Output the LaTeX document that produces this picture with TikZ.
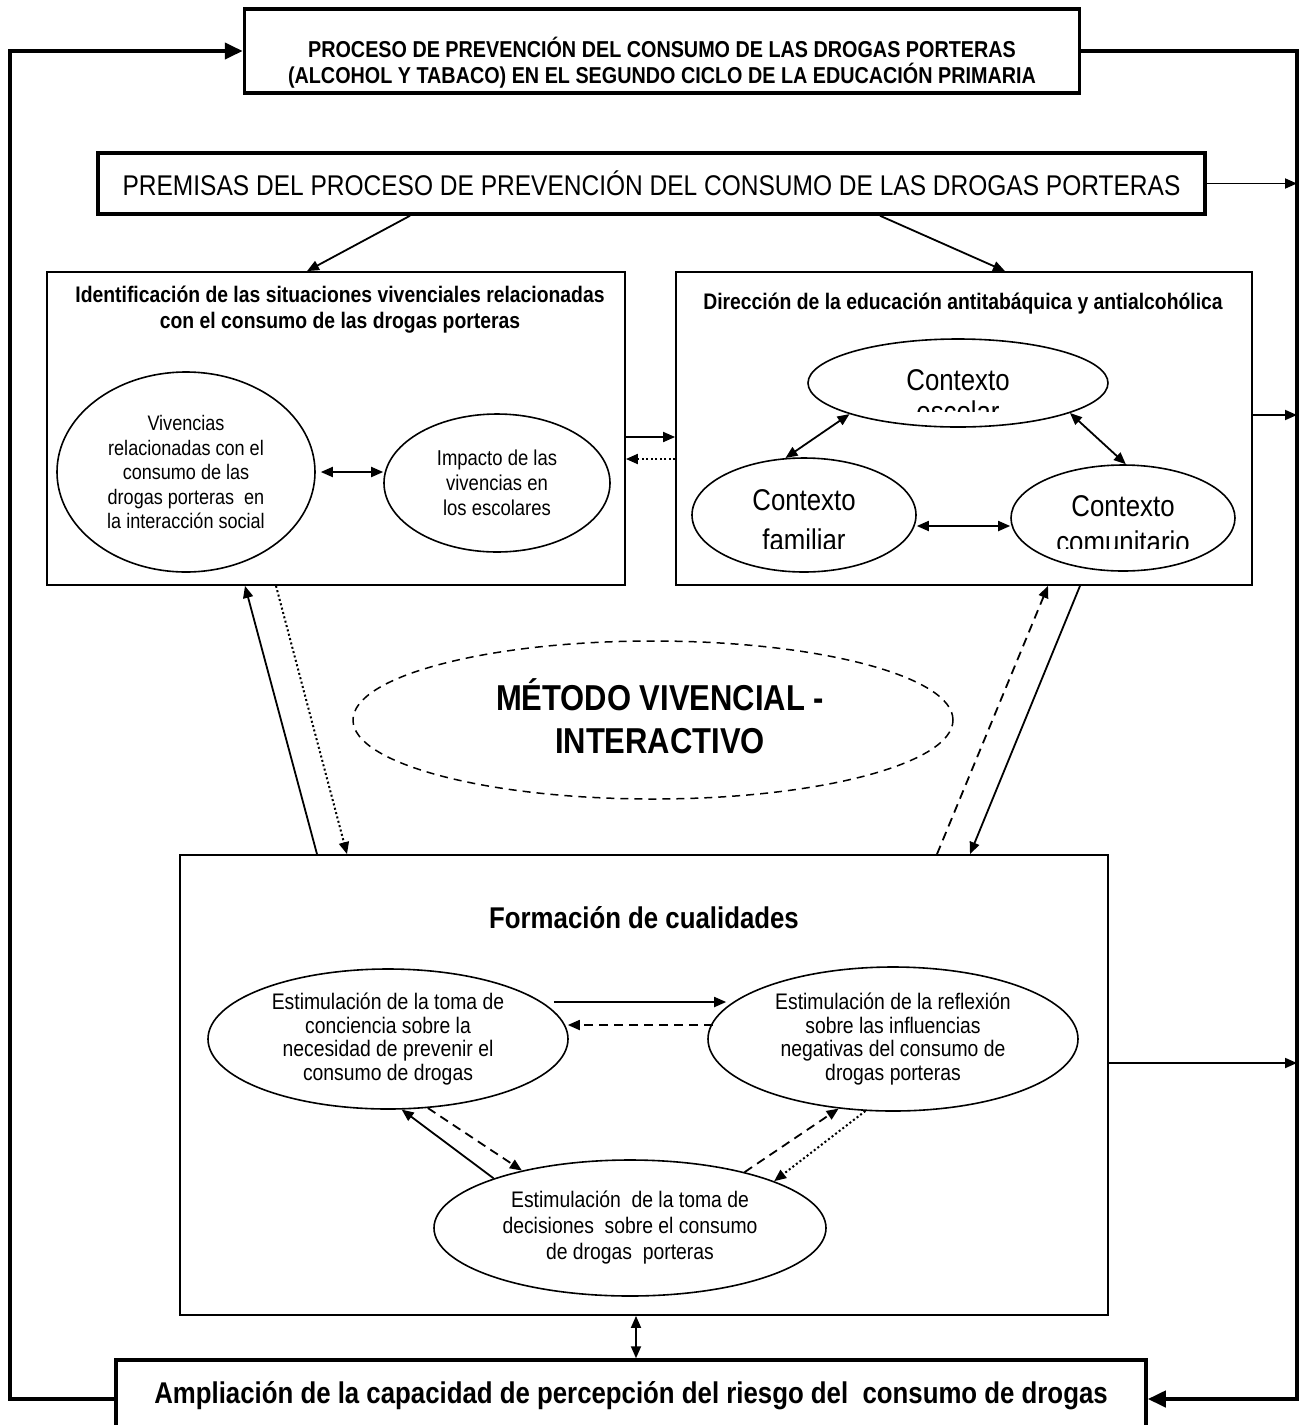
\documentclass[tikz,border=0pt]{standalone}
\usepackage{fontspec}
\setmainfont{Liberation Sans}[FakeStretch=0.86]
\usetikzlibrary{shapes.geometric,arrows.meta}
\begin{document}
\begin{tikzpicture}[x=1pt,y=-1pt,
  thickbox/.style={draw,line width=3.5pt,inner sep=0pt},
  thinbox/.style={draw,line width=1.8pt,inner sep=0pt},
  ell/.style={draw,ellipse,line width=1.6pt,inner sep=0pt,align=center},
  txt/.style={inner sep=0pt,align=center},
  arr/.style={line width=1.8pt,-{Triangle[length=12pt,width=10pt]}},
  darr/.style={line width=1.8pt,{Triangle[length=12pt,width=10pt]}-{Triangle[length=12pt,width=10pt]}},
  dotline/.style={line width=2pt,dash pattern=on 2pt off 2.5pt},
  dashline/.style={line width=1.8pt,dash pattern=on 9pt off 6pt},
  loopline/.style={line width=4pt,line join=miter,-{Triangle[length=18pt,width=16pt]}}
]
\useasboundingbox (0,0) rectangle (1304,1425);
\fill[white] (0,0) rectangle (1304,1425);

% outer boxes
\node[thickbox,minimum width=835pt,minimum height=84pt] (top) at (662,51) {};
\node[txt,font=\bfseries\fontsize{23}{26}\selectfont] (topt) at (662,63)
  {PROCESO DE PREVENCIÓN DEL CONSUMO DE LAS DROGAS PORTERAS\\(ALCOHOL Y TABACO) EN EL SEGUNDO CICLO DE LA EDUCACIÓN PRIMARIA};

\node[thickbox,minimum width=1107pt,minimum height=61pt,font=\fontsize{28.5}{30}\selectfont] (prem) at (651.5,183.5)
  {PREMISAS DEL PROCESO DE PREVENCIÓN DEL CONSUMO DE LAS DROGAS PORTERAS};

% left box
\node[thinbox,minimum width=578pt,minimum height=313pt] (idb) at (336,428.5) {};
\node[txt,font=\bfseries\fontsize{22.5}{26}\selectfont] (idbt) at (340,310)
  {Identificación de las situaciones vivenciales relacionadas\\con el consumo de las drogas porteras};
\node[ell,minimum width=258pt,minimum height=200pt,font=\fontsize{21}{24.5}\selectfont] (viv) at (186,472)
  {Vivencias\\relacionadas con el\\consumo de las\\drogas porteras\ \ en\\la interacción social};
\node[ell,minimum width=226pt,minimum height=138pt,font=\fontsize{21.5}{25}\selectfont] (imp) at (497,483)
  {Impacto de las\\vivencias en\\los escolares};

% right box
\node[thinbox,minimum width=576pt,minimum height=313pt] (dir) at (964,428.5) {};
\node[txt,font=\bfseries\fontsize{22.5}{26}\selectfont] (dirt) at (963,304)
  {Dirección de la educación antitabáquica y antialcohólica};
\node[ell,minimum width=300pt,minimum height=88pt] (esc) at (958,383) {};
\node[ell,minimum width=224pt,minimum height=114pt] (fam) at (804,515) {};
\node[ell,minimum width=224pt,minimum height=106pt] (com) at (1123,518) {};
\begin{scope}
  \clip (820,340) rectangle (1100,411);
  \node[txt,font=\fontsize{30}{32}\selectfont] (esct) at (958,396) {Contexto\\escolar};
\end{scope}
\begin{scope}
  \clip (700,470) rectangle (910,548);
  \node[txt,font=\fontsize{30}{40}\selectfont] (famt) at (804,520) {Contexto\\familiar};
\end{scope}
\begin{scope}
  \clip (1015,470) rectangle (1230,548);
  \node[txt,font=\fontsize{30}{36}\selectfont] (comt) at (1123,524) {Contexto\\comunitario};
\end{scope}

% method ellipse
\node[draw,ellipse,line width=1.5pt,dash pattern=on 8pt off 6pt,minimum width=600pt,minimum height=158pt] (met) at (653,720) {};
\node[txt,font=\bfseries\fontsize{36}{43}\selectfont] (mett) at (660,716) {MÉTODO VIVENCIAL -\\INTERACTIVO};

% formation box
\node[thinbox,minimum width=928pt,minimum height=460pt] (form) at (644,1085) {};
\node[txt,font=\bfseries\fontsize{30}{34}\selectfont] (formt) at (644,918) {Formación de cualidades};
\node[ell,minimum width=360pt,minimum height=140pt,font=\fontsize{22.5}{23.5}\selectfont] (conc) at (388,1039)
  {Estimulación de la toma de\\conciencia sobre la\\necesidad de prevenir el\\consumo de drogas};
\node[ell,minimum width=370pt,minimum height=144pt,font=\fontsize{22.5}{23.5}\selectfont] (refl) at (893,1039)
  {Estimulación de la reflexión\\sobre las influencias\\negativas del consumo de\\drogas porteras};
\node[ell,minimum width=392pt,minimum height=136pt,font=\fontsize{22.5}{26}\selectfont] (dec) at (630,1228)
  {Estimulación\ \ de la toma de\\decisiones\ \ sobre el consumo\\de drogas\ \ porteras};

% bottom box
\node[thickbox,minimum width=1030pt,minimum height=100pt] (amp) at (631,1410) {};
\node[txt,font=\bfseries\fontsize{30}{34}\selectfont] (ampt) at (631,1396)
  {Ampliación de la capacidad de percepción del riesgo del\ \ consumo de drogas};

% helper coordinates
\coordinate (ll) at (10,0);
\coordinate (rl) at (1297,0);
\coordinate (yb) at (0,1399);

% outer loops
\draw[loopline] (amp.west |- yb) -| (ll |- top.west) -- (top.west);
\draw[loopline] (top.east) -- (rl |- top.east) -- (rl |- yb) -- (amp.east |- yb);

% arrows to right line
\draw[arr] (prem.east) -- (prem.east -| rl);
\draw[arr] ([yshift=13.5pt]dir.east) -- ([yshift=13.5pt]dir.east -| rl);
\draw[arr] ([yshift=22pt]form.east) -- ([yshift=22pt]form.east -| rl);

% premisas to boxes
\draw[arr] ([xshift=-241.5pt]prem.south) -- ([xshift=-29pt]idb.north);
\draw[arr] ([xshift=228.5pt]prem.south) -- ([xshift=41pt]dir.north);

% between boxes
\draw[arr] ([yshift=-8.5pt]idb.east) -- ([yshift=-8.5pt]dir.west);
\draw[arr,dotline] ([yshift=-30.5pt]dir.west) -- ([yshift=-30.5pt]idb.east);

% inside left box
\draw[darr,shorten <=5pt] (viv.east) -- (viv.east -| imp.west);

% inside right box
\draw[darr] (fam.108) -- (esc.196);
\draw[darr] (esc.345) -- (com.87);
\draw[darr] ([yshift=-11pt]fam.east) -- ([yshift=-8pt]com.west);

% boxes to formation
\draw[arr] ([xshift=-327pt]form.north) -- ([xshift=-91pt]idb.south);
\draw[arr,dotline] ([xshift=-60pt]idb.south) -- ([xshift=-297pt]form.north);
\draw[arr,dashline] ([xshift=293pt]form.north) -- ([xshift=84pt]dir.south);
\draw[arr] ([xshift=116pt]dir.south) -- ([xshift=326pt]form.north);

% inside formation
\draw[arr] ([yshift=37pt,xshift=-15pt]conc.east) -- ([yshift=37pt,xshift=19pt]refl.west);
\draw[arr,dashline] ([yshift=14pt,xshift=6pt]refl.west) -- ([yshift=14pt,xshift=-1pt]conc.east);
\draw[arr] (dec.160) -- (conc.281);
\draw[arr,dashline] (conc.300) -- (dec.152);
\draw[arr,dashline] (dec.26) -- (refl.232);
\draw[arr,dotline] (refl.249) -- (dec.18);

% formation to bottom
\draw[darr] ([xshift=-8pt]form.south) -- ([xshift=5pt]amp.north);
\end{tikzpicture}
\end{document}
